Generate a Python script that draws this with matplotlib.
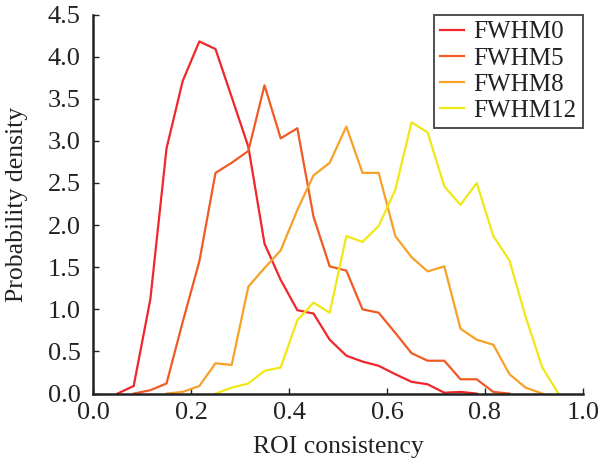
import matplotlib
matplotlib.use("Agg")
import matplotlib.pyplot as plt

# bin centres (bin width 1/30)
x_fwhm0 = [0.050, 0.083, 0.117, 0.150, 0.183, 0.217, 0.250, 0.283, 0.317, 0.350, 0.383, 0.417,
           0.450, 0.483, 0.517, 0.550, 0.583, 0.617, 0.650, 0.683, 0.717, 0.750, 0.783]
y_fwhm0 = [0.00, 0.09, 1.12, 2.91, 3.71, 4.18, 4.09, 3.52, 2.93, 1.78, 1.35, 0.99,
           0.95, 0.64, 0.45, 0.38, 0.33, 0.23, 0.14, 0.11, 0.01, 0.02, 0.00]

x_fwhm5 = [0.083, 0.117, 0.150, 0.183, 0.217, 0.250, 0.283, 0.317, 0.350, 0.383, 0.417, 0.450,
           0.483, 0.517, 0.550, 0.583, 0.617, 0.650, 0.683, 0.717, 0.750, 0.783, 0.817, 0.850]
y_fwhm5 = [0.00, 0.04, 0.12, 0.85, 1.57, 2.62, 2.74, 2.88, 3.66, 3.03, 3.15, 2.10,
           1.51, 1.46, 1.00, 0.96, 0.72, 0.48, 0.39, 0.39, 0.17, 0.17, 0.02, 0.00]

x_fwhm8 = [0.150, 0.183, 0.217, 0.250, 0.283, 0.317, 0.350, 0.383, 0.417, 0.450, 0.483, 0.517,
           0.550, 0.583, 0.617, 0.650, 0.683, 0.717, 0.750, 0.783, 0.817, 0.850, 0.883, 0.917]
y_fwhm8 = [0.00, 0.02, 0.09, 0.36, 0.34, 1.27, 1.49, 1.70, 2.18, 2.59, 2.74, 3.17,
           2.62, 2.62, 1.87, 1.62, 1.45, 1.51, 0.77, 0.64, 0.58, 0.23, 0.07, 0.00]

x_fwhm12 = [0.250, 0.283, 0.317, 0.350, 0.383, 0.417, 0.450, 0.483, 0.517, 0.550, 0.583,
            0.617, 0.650, 0.683, 0.717, 0.750, 0.783, 0.817, 0.850, 0.883, 0.917, 0.950]
y_fwhm12 = [0.00, 0.07, 0.12, 0.27, 0.31, 0.87, 1.08, 0.96, 1.87, 1.80, 1.99,
            2.42, 3.22, 3.10, 2.46, 2.24, 2.50, 1.87, 1.58, 0.91, 0.31, 0.00]

labels = ["FWHM0", "FWHM5", "FWHM8", "FWHM12"]
colors = ["#f0262a", "#f15a24", "#f7a128", "#f0e816"]

plt.rcParams["font.family"] = ["Liberation Serif", "DejaVu Serif"]

fig = plt.figure(figsize=(6.10, 4.68), dpi=100)
ax = fig.add_axes([0.1525, 0.159, 0.8032, 0.81])

series = [(x_fwhm0, y_fwhm0), (x_fwhm5, y_fwhm5), (x_fwhm8, y_fwhm8), (x_fwhm12, y_fwhm12)]
for (xs, ys), lab, col in zip(series, labels, colors):
    ax.plot(xs, ys, color=col, lw=1.6, label=lab, clip_on=False)

ax.set_xlim(0, 1.0)
ax.set_ylim(0, 4.5)
ax.set_xticks([0.0, 0.2, 0.4, 0.6, 0.8, 1.0])
ax.set_yticks([0.0, 0.5, 1.0, 1.5, 2.0, 2.5, 3.0, 3.5, 4.0, 4.5])
ax.xaxis.set_major_formatter(matplotlib.ticker.FormatStrFormatter("%.1f"))
ax.yaxis.set_major_formatter(matplotlib.ticker.FormatStrFormatter("%.1f"))
ax.tick_params(direction="in", length=4, width=1.0, colors="#222222", labelcolor="#222222", labelsize=19)
ax.tick_params(axis="x", pad=6)
ax.tick_params(axis="y", pad=9)

for side in ["top", "right"]:
    ax.spines[side].set_visible(False)
for side in ["left", "bottom"]:
    ax.spines[side].set_linewidth(1.8)
    ax.spines[side].set_color("#222222")

ax.set_xlabel("ROI consistency", fontsize=18.5, color="#222222", labelpad=9)
ax.set_ylabel("Probability density", fontsize=18.5, color="#222222", labelpad=14)

leg = ax.legend(loc="upper right", borderaxespad=0.0, fancybox=False, frameon=True,
                handlelength=0.95, handletextpad=0.4, borderpad=0.25, labelspacing=0.15,
                fontsize=18)
leg.get_frame().set_edgecolor("#222222")
leg.get_frame().set_linewidth(1.4)
for t in leg.get_texts():
    t.set_color("#222222")

fig.savefig("out.png", dpi=100)
